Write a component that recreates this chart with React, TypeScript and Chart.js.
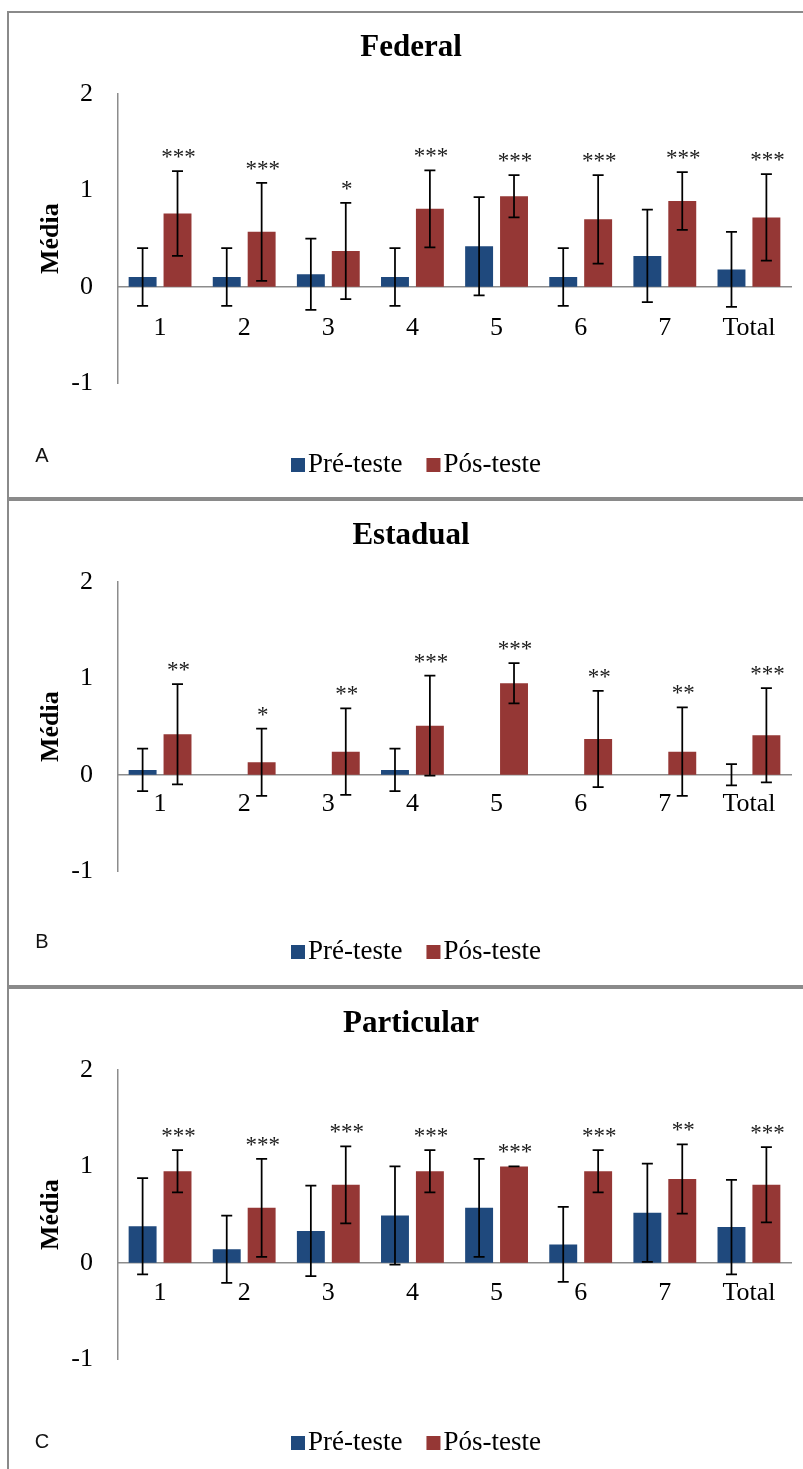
import React, { useEffect, useRef } from 'react';
import { Chart, registerables } from 'chart.js';

Chart.register(...registerables);

// ---------- data ----------
const CATEGORIES = ['1', '2', '3', '4', '5', '6', '7', 'Total'];
const SERIES_LABELS = ['Pré-teste', 'Pós-teste'];
const Y_TITLE = 'Média';

const FED_PRE = [0.1, 0.1, 0.13, 0.1, 0.42, 0.1, 0.32, 0.18];
const FED_PRE_SD = [0.3, 0.3, 0.37, 0.3, 0.51, 0.3, 0.48, 0.39];
const FED_POS = [0.76, 0.57, 0.37, 0.81, 0.94, 0.7, 0.89, 0.72];
const FED_POS_SD = [0.44, 0.51, 0.5, 0.4, 0.22, 0.46, 0.3, 0.45];
const FED_SIG = ['***', '***', '*', '***', '***', '***', '***', '***'];

const EST_PRE = [0.05, 0, 0, 0.05, 0, 0, 0, 0];
const EST_PRE_SD: (number | null)[] = [0.22, null, null, 0.22, null, null, null, 0.11];
const EST_POS = [0.42, 0.13, 0.24, 0.51, 0.95, 0.37, 0.24, 0.41];
const EST_POS_SD = [0.52, 0.35, 0.45, 0.52, 0.21, 0.5, 0.46, 0.49];
const EST_SIG = ['**', '*', '**', '***', '***', '**', '**', '***'];

const PAR_PRE = [0.38, 0.14, 0.33, 0.49, 0.57, 0.19, 0.52, 0.37];
const PAR_PRE_SD = [0.5, 0.35, 0.47, 0.51, 0.51, 0.39, 0.51, 0.49];
const PAR_POS = [0.95, 0.57, 0.81, 0.95, 1.0, 0.95, 0.87, 0.81];
const PAR_POS_SD = [0.22, 0.51, 0.4, 0.22, 0, 0.22, 0.36, 0.39];
const PAR_SIG = ['***', '***', '***', '***', '***', '***', '**', '***'];

// ---------- styles ----------
const PRE_COLOR = '#1F497D';
const POS_COLOR = '#953735';
const AXIS_COLOR = '#8c8c8c';
const SERIF = '"Liberation Serif", "Times New Roman", Times, serif';
const SANS = '"Liberation Sans", Arial, sans-serif';

type Panel = {
  title: string;
  letter: string;
  pre: number[];
  preSd: (number | null)[];
  pos: number[];
  posSd: (number | null)[];
  sig: string[];
  labelPad: number;
  letterY: number;
  legendY: number;
};

const PANELS: Panel[] = [
  { title: 'Federal', letter: 'A', pre: FED_PRE, preSd: FED_PRE_SD, pos: FED_POS, posSd: FED_POS_SD, sig: FED_SIG, labelPad: 26, letterY: 443, legendY: 452 },
  { title: 'Estadual', letter: 'B', pre: EST_PRE, preSd: EST_PRE_SD, pos: EST_POS, posSd: EST_POS_SD, sig: EST_SIG, labelPad: 14, letterY: 441, legendY: 451 },
  { title: 'Particular', letter: 'C', pre: PAR_PRE, preSd: PAR_PRE_SD, pos: PAR_POS, posSd: PAR_POS_SD, sig: PAR_SIG, labelPad: 15, letterY: 453, legendY: 454 },
];

function makeExtras(p: Panel) {
  return {
    id: 'panelExtras',
    afterDatasetsDraw(chart: any) {
      const ctx = chart.ctx as CanvasRenderingContext2D;
      const ys = chart.scales.y;
      const sdSets = [p.preSd, p.posSd];
      const valSets = [p.pre, p.pos];
      ctx.save();
      for (let di = 0; di < 2; di++) {
        const meta = chart.getDatasetMeta(di);
        meta.data.forEach((bar: any, i: number) => {
          const sd = sdSets[di][i];
          if (sd == null) return;
          const v = valSets[di][i];
          const yt = ys.getPixelForValue(v + sd);
          const yb = ys.getPixelForValue(v - sd);
          ctx.strokeStyle = '#000';
          ctx.lineWidth = 1.75;
          ctx.beginPath();
          ctx.moveTo(bar.x, yt);
          ctx.lineTo(bar.x, yb);
          ctx.moveTo(bar.x - 5.5, yt);
          ctx.lineTo(bar.x + 5.5, yt);
          ctx.moveTo(bar.x - 5.5, yb);
          ctx.lineTo(bar.x + 5.5, yb);
          ctx.stroke();
          if (di === 1 && p.sig[i]) {
            ctx.fillStyle = '#1a1a1a';
            ctx.font = `23px ${SERIF}`;
            ctx.textAlign = 'center';
            ctx.textBaseline = 'alphabetic';
            ctx.fillText(p.sig[i], bar.x + 1, yt - 7);
          }
        });
      }
      ctx.restore();
    },
    afterDraw(chart: any) {
      const ctx = chart.ctx as CanvasRenderingContext2D;
      ctx.save();
      // legend
      ctx.font = `27px ${SERIF}`;
      ctx.textBaseline = 'middle';
      ctx.textAlign = 'left';
      let x = 282;
      const colors = [PRE_COLOR, POS_COLOR];
      SERIES_LABELS.forEach((lab, i) => {
        ctx.fillStyle = colors[i];
        ctx.fillRect(x, p.legendY - 7, 14, 14);
        ctx.fillStyle = '#000';
        ctx.fillText(lab, x + 17, p.legendY);
        x += 17 + ctx.measureText(lab).width + 24;
      });
      // panel letter
      ctx.font = `20px ${SANS}`;
      ctx.textAlign = 'center';
      ctx.fillStyle = '#111';
      ctx.fillText(p.letter, 33, p.letterY);
      ctx.restore();
    },
  };
}

function PanelChart({ p }: { p: Panel }) {
  const ref = useRef<HTMLCanvasElement>(null);
  useEffect(() => {
    if (!ref.current) return;
    const tickFont = { family: SERIF, size: 26 };
    const chart = new Chart(ref.current, {
      type: 'bar',
      data: {
        labels: CATEGORIES,
        datasets: [
          { label: SERIES_LABELS[0], data: p.pre, backgroundColor: PRE_COLOR, borderWidth: 0, categoryPercentage: 0.83, barPercentage: 0.8 },
          { label: SERIES_LABELS[1], data: p.pos, backgroundColor: POS_COLOR, borderWidth: 0, categoryPercentage: 0.83, barPercentage: 0.8 },
        ],
      },
      options: {
        responsive: false,
        animation: false,
        devicePixelRatio: 1,
        layout: { padding: { left: 22, right: 14, top: 0, bottom: 114 } },
        plugins: {
          legend: { display: false },
          tooltip: { enabled: false },
          title: {
            display: true,
            text: p.title,
            color: '#000',
            font: { family: SERIF, size: 31, weight: 'bold', lineHeight: 1.2 },
            padding: { top: 16, bottom: 28 },
          },
        },
        scales: {
          x: {
            type: 'category',
            position: { y: 0 } as any,
            offset: true,
            grid: { display: false, drawTicks: false },
            border: { display: true, color: AXIS_COLOR, width: 1.5 },
            ticks: { color: '#000', font: tickFont, padding: p.labelPad, maxRotation: 0, autoSkip: false },
          },
          y: {
            type: 'linear',
            position: 'left',
            min: -1,
            max: 2,
            grid: { display: false, drawTicks: false },
            border: { display: true, color: AXIS_COLOR, width: 1.5 },
            ticks: { stepSize: 1, color: '#000', font: tickFont, padding: 25 },
            title: {
              display: true,
              text: Y_TITLE,
              color: '#000',
              font: { family: SERIF, size: 26, weight: 'bold', lineHeight: 1.2 },
              padding: { top: 5, bottom: 0 },
            },
            afterFit: (s: any) => {
              s.width = 87;
            },
          },
        },
      } as any,
      plugins: [makeExtras(p)],
    });
    return () => chart.destroy();
  }, [p]);
  return <canvas ref={ref} width={796} height={484} style={{ display: 'block', width: 796, height: 484 }} />;
}

export default function App() {
  return (
    <>
      <style>{'html,body{margin:0;padding:0;overflow:hidden;background:#fff;}'}</style>
      <div style={{ position: 'absolute', left: 7, top: 11 }}>
        {PANELS.map((p) => (
          <div
            key={p.letter}
            style={{ width: 800, height: 488, border: `2px solid #8a8a8a`, boxSizing: 'border-box', background: '#fff' }}
          >
            <PanelChart p={p} />
          </div>
        ))}
      </div>
    </>
  );
}
